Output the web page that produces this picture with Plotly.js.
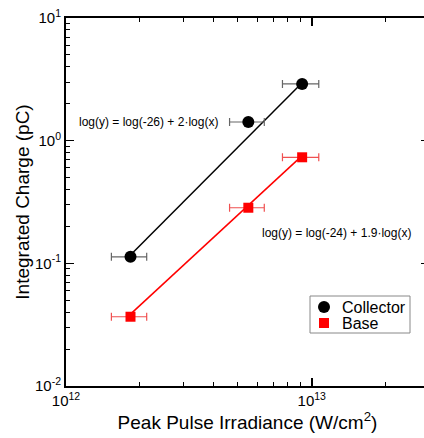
<!DOCTYPE html>
<html>
<head>
<meta charset="utf-8">
<script src="https://cdn.plot.ly/plotly-3.0.1.min.js"></script>
<style>
html,body{margin:0;padding:0;overflow:hidden;background:#fff;width:424px;height:438px;}
#chart{width:432px;height:438px;}
</style>
</head>
<body>
<div id="chart"></div>
<script>
// Data
var irradiance = [1.83e12, 5.52e12, 9.14e12];           // W/cm^2
var irradianceErr = [0.30e12, 0.89e12, 1.54e12];
var collectorCharge = [0.113, 1.42, 2.90];              // pC
var baseCharge = [0.0367, 0.284, 0.732];                // pC

// Fit parameters: log10(y) = a + b*log10(x)
var collectorFit = {a: -25.58, b: 2.01};
var baseFit = {a: -24.10, b: 1.85};

var seriesNames = ['Collector', 'Base'];
var collectorEq = 'log(y) = log(-26) + 2\u00B7log(x)';
var baseEq = 'log(y) = log(-24) + 1.9\u00B7log(x)';

var xTickVals = [1e12, 1e13];
var xTickText = ['10<sup>12</sup>', '10<sup>13</sup>'];
var yTickVals = [0.01, 0.1, 1, 10];
var yTickText = ['10<sup>-2</sup>', '10<sup>-1</sup>', '10<sup>0</sup>', '10<sup>1</sup>'];

function fitLine(f, xs) {
  return xs.map(function (x) { return Math.pow(10, f.a + f.b * Math.log10(x)); });
}
var fitX = [irradiance[0], irradiance[irradiance.length - 1]];

var FONT = 'Liberation Sans, Arial, Helvetica, sans-serif';

var traces = [
  {x: fitX, y: fitLine(collectorFit, fitX), mode: 'lines', type: 'scatter',
   line: {color: '#000', width: 1.5}, showlegend: false, hoverinfo: 'skip'},
  {x: fitX, y: fitLine(baseFit, fitX), mode: 'lines', type: 'scatter',
   line: {color: '#ff0000', width: 1.5}, showlegend: false, hoverinfo: 'skip'},
  {x: irradiance, y: collectorCharge, name: seriesNames[0], mode: 'markers', type: 'scatter',
   showlegend: false,
   marker: {symbol: 'circle', size: 12, color: '#000'},
   error_x: {type: 'data', array: irradianceErr, visible: true, color: '#666', thickness: 1.2, width: 4}},
  {x: irradiance, y: baseCharge, name: seriesNames[1], mode: 'markers', type: 'scatter',
   showlegend: false,
   marker: {symbol: 'square', size: 10, color: '#ff0000'},
   error_x: {type: 'data', array: irradianceErr, visible: true, color: '#f05050', thickness: 1.2, width: 4}}
];

var axisCommon = {
  type: 'log', showgrid: false, zeroline: false,
  showline: true, linecolor: '#000', linewidth: 2, mirror: 'allticks',
  ticks: 'inside', ticklen: 8, tickwidth: 1.5, tickcolor: '#000',
  tickmode: 'array',
  tickfont: {family: FONT, size: 15, color: '#000'},
  minor: {ticks: 'inside', ticklen: 4, tickwidth: 1, tickcolor: '#000', dtick: 'D1'}
};

// legend drawn in paper coordinates (plot area: x 66..429 px, y 18..386 px)
function px(p) { return (p - 66) / 363; }
function py(p) { return (386 - p) / 368; }

var layout = {
  width: 432, height: 438,
  margin: {l: 66, r: 3, t: 18, b: 52},
  paper_bgcolor: '#fff', plot_bgcolor: '#fff',
  font: {family: FONT, color: '#000'},
  showlegend: false,
  xaxis: Object.assign({}, axisCommon, {
    range: [12, Math.log10(3e13)],
    tickvals: xTickVals, ticktext: xTickText,
    title: {text: 'Peak Pulse Irradiance (W/cm<sup>2</sup>)', font: {family: FONT, size: 19, color: '#000'}, standoff: 8}
  }),
  yaxis: Object.assign({}, axisCommon, {
    range: [-2, 1],
    tickvals: yTickVals, ticktext: yTickText,
    title: {text: 'Integrated Charge (pC)', font: {family: FONT, size: 19, color: '#000'}, standoff: 0}
  }),
  shapes: [
    {type: 'rect', xref: 'paper', yref: 'paper', x0: px(310), x1: px(410), y0: py(333), y1: py(296),
     line: {color: '#888', width: 1}, fillcolor: '#fff', layer: 'above'},
    {type: 'circle', xref: 'paper', yref: 'paper', xsizemode: 'pixel', ysizemode: 'pixel',
     xanchor: px(324), yanchor: py(307), x0: -6, x1: 6, y0: -6, y1: 6,
     line: {width: 0}, fillcolor: '#000', layer: 'above'},
    {type: 'rect', xref: 'paper', yref: 'paper', xsizemode: 'pixel', ysizemode: 'pixel',
     xanchor: px(324), yanchor: py(323), x0: -5, x1: 5, y0: -5, y1: 5,
     line: {width: 0}, fillcolor: '#ff0000', layer: 'above'}
  ],
  annotations: [
    {xref: 'paper', yref: 'paper', x: px(77), y: py(122), xanchor: 'left', yanchor: 'middle',
     text: collectorEq, showarrow: false, font: {family: FONT, size: 12, color: '#000'}},
    {xref: 'paper', yref: 'paper', x: px(260), y: py(233), xanchor: 'left', yanchor: 'middle',
     text: baseEq, showarrow: false, font: {family: FONT, size: 12, color: '#000'}},
    {xref: 'paper', yref: 'paper', x: px(340), y: py(307), xanchor: 'left', yanchor: 'middle',
     text: seriesNames[0], showarrow: false, font: {family: FONT, size: 16, color: '#000'}},
    {xref: 'paper', yref: 'paper', x: px(340), y: py(323), xanchor: 'left', yanchor: 'middle',
     text: seriesNames[1], showarrow: false, font: {family: FONT, size: 16, color: '#000'}}
  ]
};

Plotly.newPlot('chart', traces, layout, {displayModeBar: false, staticPlot: true});
</script>
</body>
</html>
